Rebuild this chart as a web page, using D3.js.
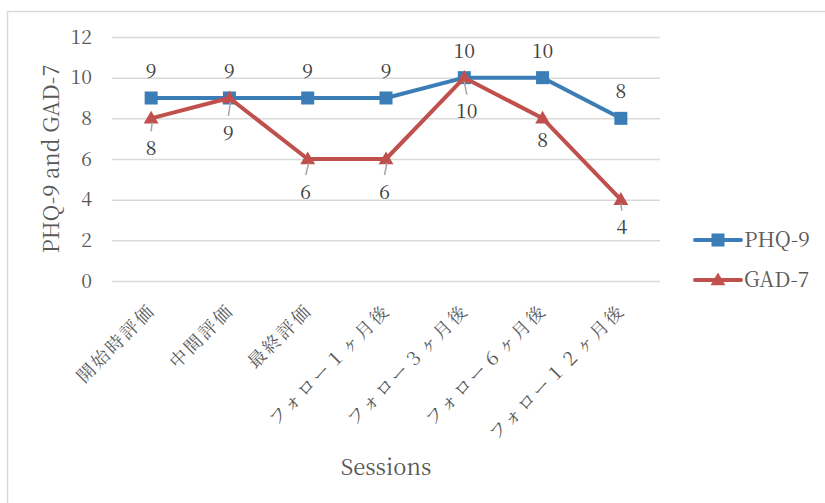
<!DOCTYPE html>
<html>
<head>
<meta charset="utf-8">
<script src="https://cdn.jsdelivr.net/npm/d3@7"></script>
<style>
  body { margin: 0; background: #fff; }
</style>
</head>
<body>
<div id="chart"></div>
<script>
// data
var sessions = ["開始時評価", "中間評価", "最終評価", "フォロー１ヶ月後", "フォロー３ヶ月後", "フォロー６ヶ月後", "フォロー１２ヶ月後"];
var phq9 = [9, 9, 9, 9, 10, 10, 8];
var gad7 = [8, 9, 6, 6, 10, 8, 4];
var yTicks = [0, 2, 4, 6, 8, 10, 12];

// GAD-7 label nudges (labels were moved by hand in the original)
var gadLabelDx = [0, -1, -2, -1.5, 2.5, 0, 1];
var gadLabelDy = [30, 35, 33, 33, 34, 22, 28];

var W = 825, H = 503;
var margin = {top: 37, left: 112, right: 165, bottom: 222};
var width = W - margin.left - margin.right,
    height = H - margin.top - margin.bottom;

var blue = "#3b7db6", red = "#c0504d";
var serif = "'Noto Serif CJK JP', 'DejaVu Serif', serif";

var svg = d3.select("#chart").append("svg")
  .attr("width", W)
  .attr("height", H);

// chart border
svg.append("rect")
  .attr("x", 7.5).attr("y", 11.5)
  .attr("width", 830).attr("height", 500)
  .attr("fill", "#fff")
  .attr("stroke", "#d9d9d9")
  .attr("stroke-width", 1.5);

var g = svg.append("g")
  .attr("transform", "translate(" + margin.left + "," + margin.top + ")");

var x = d3.scaleBand().domain(sessions).range([0, width]).padding(0);
var y = d3.scaleLinear().domain([0, 12]).range([height, 0]);
var cx = function(d, i) { return x(sessions[i]) + x.bandwidth() / 2; };

// y axis + gridlines
var yAxis = g.append("g")
  .call(d3.axisLeft(y).tickValues(yTicks).tickSize(-width).tickPadding(20));
yAxis.select(".domain").remove();
yAxis.selectAll(".tick line")
  .attr("stroke", "#d9d9d9")
  .attr("stroke-width", 1.5);
yAxis.selectAll(".tick text")
  .attr("fill", "#595959")
  .style("font-family", serif)
  .style("font-size", "19.5px");

// x axis labels (rotated)
var xAxis = g.append("g")
  .attr("transform", "translate(0," + height + ")")
  .call(d3.axisBottom(x).tickSize(0).tickFormat(""));
xAxis.select(".domain").remove();

g.selectAll(".xlab")
  .data(sessions)
  .enter().append("text")
  .attr("class", "xlab")
  .attr("transform", function(d) {
    return "translate(" + (x(d) + x.bandwidth() / 2 + 1) + "," + (height + 26) + ") rotate(-45)";
  })
  .attr("text-anchor", "end")
  .attr("dy", "0.35em")
  .attr("fill", "#595959")
  .style("font-family", serif)
  .style("font-size", "18px")
  .style("letter-spacing", "2.5px")
  .text(function(d) { return d; });

// axis titles
svg.append("text")
  .attr("transform", "translate(51," + (margin.top + height / 2) + ") rotate(-90)")
  .attr("text-anchor", "middle")
  .attr("dy", "0.35em")
  .attr("fill", "#595959")
  .style("font-family", serif)
  .style("font-size", "22px")
  .text("PHQ-9 and GAD-7");

svg.append("text")
  .attr("x", margin.left + width / 2)
  .attr("y", 475)
  .attr("text-anchor", "middle")
  .attr("fill", "#595959")
  .style("font-family", serif)
  .style("font-size", "22px")
  .text("Sessions");

var line = d3.line()
  .x(function(d, i) { return cx(d, i); })
  .y(function(d) { return y(d); });

var tri = d3.symbol().type(d3.symbolTriangle).size(95);

// PHQ-9 series
g.append("path")
  .datum(phq9)
  .attr("d", line)
  .attr("fill", "none")
  .attr("stroke", blue)
  .attr("stroke-width", 4)
  .attr("stroke-linejoin", "round");

g.selectAll(".sq")
  .data(phq9)
  .enter().append("rect")
  .attr("class", "sq")
  .attr("x", function(d, i) { return cx(d, i) - 6.5; })
  .attr("y", function(d) { return y(d) - 6.5; })
  .attr("width", 13).attr("height", 13)
  .attr("fill", blue);

// GAD-7 series
g.append("path")
  .datum(gad7)
  .attr("d", line)
  .attr("fill", "none")
  .attr("stroke", red)
  .attr("stroke-width", 4)
  .attr("stroke-linejoin", "round");

g.selectAll(".tri")
  .data(gad7)
  .enter().append("path")
  .attr("class", "tri")
  .attr("d", tri)
  .attr("transform", function(d, i) { return "translate(" + cx(d, i) + "," + (y(d) + 1) + ")"; })
  .attr("fill", red);

// PHQ-9 labels above
g.selectAll(".plab")
  .data(phq9)
  .enter().append("text")
  .attr("class", "plab")
  .attr("x", function(d, i) { return cx(d, i); })
  .attr("y", function(d) { return y(d) - 27; })
  .attr("dy", "0.35em")
  .attr("text-anchor", "middle")
  .attr("fill", "#404040")
  .style("font-family", serif)
  .style("font-size", "19.5px")
  .text(function(d) { return d; });

// GAD-7 leader lines (only where the label sits away from the point)
var leaders = gad7.map(function(v, i) { return {v: v, i: i}; })
  .filter(function(d) { return gadLabelDy[d.i] - 21 > 4; });

g.selectAll(".lead")
  .data(leaders)
  .enter().append("line")
  .attr("class", "lead")
  .attr("x1", function(d) { return cx(d.v, d.i) + (gadLabelDx[d.i] > 0 ? 0 : 1); })
  .attr("y1", function(d) { return y(d.v) + 4; })
  .attr("x2", function(d) { return cx(d.v, d.i) + gadLabelDx[d.i]; })
  .attr("y2", function(d) { return y(d.v) + gadLabelDy[d.i] - 17; })
  .attr("stroke", "#a6a6a6")
  .attr("stroke-width", 1.5);

g.selectAll(".glab")
  .data(gad7)
  .enter().append("text")
  .attr("class", "glab")
  .attr("x", function(d, i) { return cx(d, i) + gadLabelDx[i]; })
  .attr("y", function(d, i) { return y(d) + gadLabelDy[i]; })
  .attr("dy", "0.35em")
  .attr("text-anchor", "middle")
  .attr("fill", "#404040")
  .style("font-family", serif)
  .style("font-size", "19.5px")
  .text(function(d) { return d; });

// legend
var legend = svg.append("g").attr("transform", "translate(695,240)");
var series = [{name: "PHQ-9", color: blue, shape: "sq"}, {name: "GAD-7", color: red, shape: "tri"}];
var item = legend.selectAll(".item")
  .data(series)
  .enter().append("g")
  .attr("transform", function(d, i) { return "translate(0," + (i * 40) + ")"; });
item.append("line")
  .attr("x1", 0).attr("x2", 46)
  .attr("stroke", function(d) { return d.color; })
  .attr("stroke-width", 4)
  .attr("stroke-linecap", "round");
item.each(function(d) {
  var s = d3.select(this);
  if (d.shape === "sq") {
    s.append("rect").attr("x", 16.5).attr("y", -6.5).attr("width", 13).attr("height", 13).attr("fill", d.color);
  } else {
    s.append("path").attr("d", tri).attr("transform", "translate(23,1)").attr("fill", d.color);
  }
});
item.append("text")
  .attr("x", 49)
  .attr("dy", "0.35em")
  .attr("fill", "#595959")
  .style("font-family", serif)
  .style("font-size", "21px")
  .text(function(d) { return d.name; });
</script>
</body>
</html>
